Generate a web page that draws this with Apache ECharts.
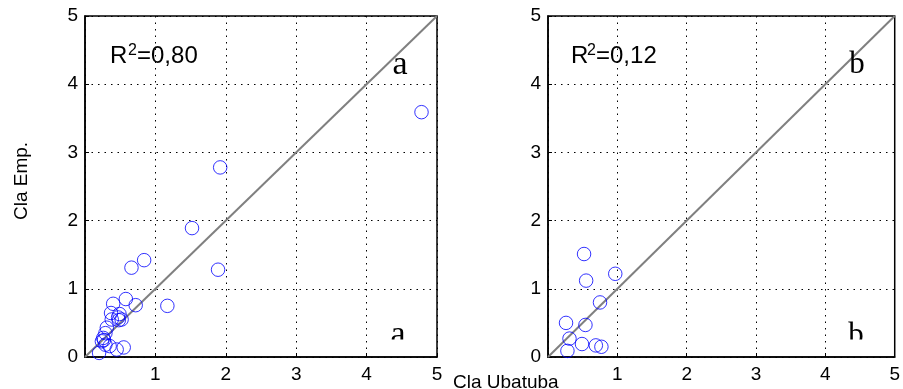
<!DOCTYPE html>
<html>
<head>
<meta charset="utf-8">
<script src="https://cdn.jsdelivr.net/npm/echarts@6/dist/echarts.min.js"></script>
<style>html,body{margin:0;padding:0;background:#fff}#c{width:903px;height:389px}</style>
</head>
<body>
<div id="c"></div>
<script>
// ---- data ----
var leftX = [4.78, 1.92, 1.52, 1.89, 0.84, 0.66, 1.17, 0.72, 0.58, 0.40, 0.37, 0.49, 0.48, 0.38, 0.52, 0.31, 0.29, 0.26, 0.24, 0.29, 0.35, 0.45, 0.55, 0.20, 0.27, 0.47];
var leftY = [3.59, 2.78, 1.89, 1.28, 1.42, 1.31, 0.75, 0.76, 0.85, 0.78, 0.645, 0.63, 0.54, 0.55, 0.55, 0.43, 0.35, 0.28, 0.23, 0.18, 0.16, 0.11, 0.14, 0.06, 0.25, 0.58];
var rightX = [0.52, 0.55, 0.97, 0.75, 0.26, 0.54, 0.31, 0.49, 0.69, 0.77, 0.28];
var rightY = [1.51, 1.12, 1.22, 0.80, 0.50, 0.47, 0.27, 0.19, 0.17, 0.15, 0.09];
var oneToOne = [[0, 0], [5, 5]];
var axisTicks = [0, 1, 2, 3, 4, 5];
var r2Left = '=0,80';
var r2Right = '=0,12';
var yTitle = 'Cla Emp.';
var xTitle = 'Cla Ubatuba';

function pairs(xs, ys) { return xs.map(function (x, i) { return [x, ys[i]]; }); }

var chart = echarts.init(document.getElementById('c'), null, { renderer: 'canvas' });

function xAx(gi) {
  return {
    type: 'value', gridIndex: gi, min: axisTicks[0], max: axisTicks[axisTicks.length - 1], interval: 1,
    axisLine: { show: true, onZero: false, lineStyle: { color: '#000', width: 1.5 } },
    axisTick: { show: true, inside: true, length: 4, lineStyle: { color: '#000' } },
    axisLabel: { color: '#000', fontSize: 19, fontFamily: 'Liberation Sans, Arial', margin: 8,
      formatter: function (v) { return v === 0 ? '' : String(v); } },
    splitLine: { show: true, lineStyle: { color: '#000', type: [1.5, 5], width: 1 } }
  };
}
function yAx(gi) {
  return {
    type: 'value', gridIndex: gi, min: axisTicks[0], max: axisTicks[axisTicks.length - 1], interval: 1,
    axisLine: { show: true, onZero: false, lineStyle: { color: '#000', width: 1.5 } },
    axisTick: { show: true, inside: true, length: 4, lineStyle: { color: '#000' } },
    axisLabel: { color: '#000', fontSize: 19, fontFamily: 'Liberation Sans, Arial', margin: 7 },
    splitLine: { show: true, lineStyle: { color: '#000', type: [1.5, 5], width: 1 } }
  };
}
function scatter(gi, data) {
  return {
    type: 'scatter', xAxisIndex: gi, yAxisIndex: gi, data: data, symbol: 'circle', symbolSize: 13.5,
    itemStyle: { color: 'rgba(0,0,0,0)', borderColor: '#0000ff', borderWidth: 1 }, z: 3, silent: true
  };
}
function diag(gi) {
  return {
    type: 'line', xAxisIndex: gi, yAxisIndex: gi, data: oneToOne, symbol: 'none',
    lineStyle: { color: '#808080', width: 2 }, z: 2, silent: true
  };
}
var sans = 'Liberation Sans, Arial';
var serif = 'Liberation Serif, Times New Roman';
function t(x, y, text, size, fam, extra) {
  var o = { type: 'text', x: x, y: y, z: 10, style: { text: text, fontSize: size, fontFamily: fam, fill: '#000', align: 'left', verticalAlign: 'bottom' } };
  if (extra) { for (var k in extra) o.style[k] = extra[k]; }
  return o;
}

chart.setOption({
  animation: false,
  backgroundColor: '#fff',
  grid: [
    { left: 85, top: 16, width: 352, height: 341, show: true, borderColor: '#000', borderWidth: 1.5, backgroundColor: 'transparent' },
    { left: 548, top: 16, width: 352, height: 341, show: true, borderColor: '#000', borderWidth: 1.5, backgroundColor: 'transparent' }
  ],
  xAxis: [xAx(0), xAx(1)],
  yAxis: [yAx(0), yAx(1)],
  series: [diag(0), scatter(0, pairs(leftX, leftY)), diag(1), scatter(1, pairs(rightX, rightY))],
  graphic: [
    // R^2 labels
    t(110, 68, 'R', 24, sans), t(128, 59, '2', 16, sans), t(137, 68, r2Left, 24, sans),
    t(571, 68, 'R', 24, sans), t(587, 59, '2', 16, sans), t(596, 68, r2Right, 24, sans),
    // panel letters
    t(400, 82, 'a', 34, serif, { align: 'center' }),
    t(857, 80, 'b', 31, serif, { align: 'center' }),
    t(398, 352, 'a', 34, serif, { align: 'center' }),
    t(856, 351, 'b', 31, serif, { align: 'center' }),
    // masks clipping lower letters
    { type: 'rect', z: 11, shape: { x: 380, y: 339.5, width: 36, height: 16 }, style: { fill: '#fff' } },
    { type: 'rect', z: 11, shape: { x: 838, y: 339.5, width: 36, height: 16 }, style: { fill: '#fff' } },
    // axis titles
    { type: 'text', x: 22, y: 181, rotation: Math.PI / 2, z: 10,
      style: { text: yTitle, fontSize: 19, fontFamily: sans, fill: '#000', align: 'center', verticalAlign: 'middle' } },
    t(453, 392, xTitle, 19, sans)
  ]
});
</script>
</body>
</html>
